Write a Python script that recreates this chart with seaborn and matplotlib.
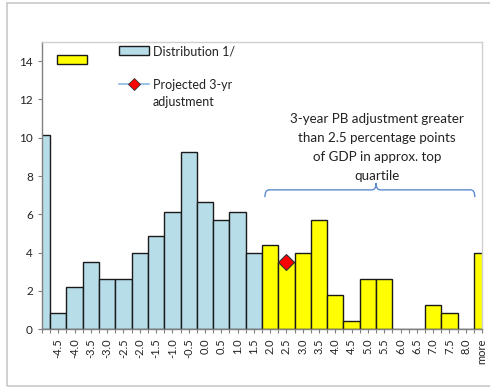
import matplotlib
matplotlib.use("Agg")
import matplotlib.pyplot as plt
import seaborn as sns
import pandas as pd
import numpy as np
from matplotlib.patches import Rectangle, Patch, PathPatch
from matplotlib.lines import Line2D
from matplotlib.path import Path

# ---- data ----
categories = [""] + [f"{v:.1f}" for v in np.arange(-4.5, 8.01, 0.5)] + ["more"]
counts = [10.15, 0.87, 2.2, 3.5, 2.64, 2.64, 3.99, 4.86, 6.15, 9.28, 6.63, 5.71, 6.15, 3.99,
          4.42, 3.5, 3.99, 5.71, 1.78, 0.42, 2.63, 2.63, 0.0, 0.0, 1.29, 0.85, 0.0, 3.99]
groups = ["Distribution 1/"] * 14 + ["Top quartile"] * 14
projected_category = "2.5"
projected_value = 3.5
legend_labels = ["Distribution 1/", "Projected 3-yr", "adjustment"]
annotation = "3-year PB adjustment greater\nthan 2.5 percentage points\nof GDP in approx. top\nquartile"

df = pd.DataFrame({"cat": categories, "count": counts, "group": groups})

sns.set_theme(style="white")
plt.rcParams["font.family"] = ["Lato", "DejaVu Sans"]

fig = plt.figure(figsize=(4.9, 3.87), dpi=100)
ax = fig.add_axes([42 / 490, 1 - 329.3 / 387, 440 / 490, 287.3 / 387])

blue = "#B7DDE8"
yellow = "#FFFF00"
sns.barplot(data=df, x="cat", y="count", hue="group", order=categories,
            palette={"Distribution 1/": blue, "Top quartile": yellow},
            dodge=False, width=1.0, edgecolor="#1a1a1a", linewidth=1.0,
            legend=False, ax=ax, saturation=1)

xi = categories.index(projected_category)
ax.plot([xi], [projected_value], marker="D", markersize=8, color="red",
        markeredgecolor="#333333", markeredgewidth=0.8, linestyle="none", zorder=5)

ax.set_xlim(0, len(categories) - 1)
ax.set_ylim(0, 15)
ax.set_yticks(range(0, 15, 2))
ax.set_xticks(range(len(categories)))
ax.set_xticklabels(categories, rotation=90, fontsize=8, color="#222222")
ax.set_xticks(np.arange(0.5, len(categories) - 1, 1), minor=True)
ax.tick_params(axis="y", labelsize=8.5, colors="#222222", length=3, direction="out", left=True, width=0.8, color="#808080")
ax.tick_params(axis="x", which="both", length=3, direction="out", bottom=True, width=0.8, color="#808080")
ax.set_xlabel("")
ax.set_ylabel("")

for side in ["top", "right"]:
    ax.spines[side].set_color("#D0D0D0")
    ax.spines[side].set_linewidth(1.0)
for side in ["left", "bottom"]:
    ax.spines[side].set_color("#808080")
    ax.spines[side].set_linewidth(1.0)

# legend
handles = [Patch(facecolor=blue, edgecolor="#1a1a1a", linewidth=1.0),
           Line2D([0], [0], color="#9DC3E6", linewidth=1.5, marker="D", markersize=6,
                  markerfacecolor="red", markeredgecolor="#333333", markeredgewidth=0.6)]
leg = ax.legend(handles, legend_labels[:2],
                loc="upper left", bbox_to_anchor=(0.155, 1.02), frameon=False,
                handlelength=2.4, handleheight=0.8, labelspacing=1.75,
                handletextpad=0.3, borderpad=0.2, prop={"size": 9})
for t in leg.get_texts():
    t.set_color("#222222")
# second line of the legend label
fig.canvas.draw()
bb = leg.get_texts()[1].get_window_extent()
inv = fig.transFigure.inverted()
x_fig, y_fig = inv.transform((bb.x0, bb.y0))
fig.text(x_fig, y_fig - 5 / 387, legend_labels[2], ha="left", va="top", fontsize=9, color="#222222")

ax.add_patch(Rectangle((0.034, 0.923), 0.068, 0.032, transform=ax.transAxes,
                       facecolor=yellow, edgecolor="#1a1a1a", linewidth=1.0, clip_on=False, zorder=6))

# annotation text
ax.text(20.55, 9.5, annotation, ha="center", va="center", fontsize=9.6,
        color="#222222", linespacing=1.72)

# curly brace
x0, x1, xm = 13.68, 26.56, 20.5
yb, ye, yp = 7.28, 6.9, 7.64
dx = 0.25
verts = [(x0, ye), (x0, yb), (x0 + dx, yb),
         (xm - dx, yb), (xm, yb), (xm, yp),
         (xm, yb), (xm + dx, yb),
         (x1 - dx, yb), (x1, yb), (x1, ye)]
codes = [Path.MOVETO, Path.CURVE3, Path.CURVE3,
         Path.LINETO, Path.CURVE3, Path.CURVE3,
         Path.CURVE3, Path.CURVE3,
         Path.LINETO, Path.CURVE3, Path.CURVE3]
ax.add_patch(PathPatch(Path(verts, codes), facecolor="none", edgecolor="#5B8BD0",
                       linewidth=1.0, clip_on=False))

# figure border
fig.patches.append(Rectangle((7 / 490, 1 / 387), 1.0, 383 / 387, transform=fig.transFigure,
                             facecolor="none", edgecolor="#C8C8C8", linewidth=1.2))

fig.savefig("out.png", dpi=100)
